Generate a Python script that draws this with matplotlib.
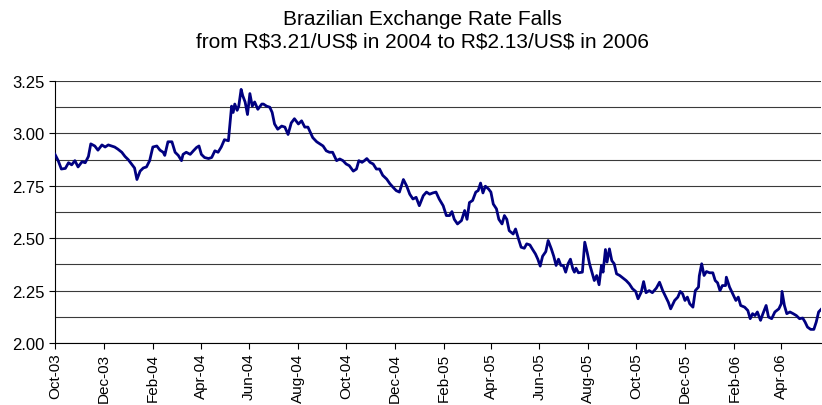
import pandas as pd
import matplotlib
matplotlib.use("Agg")
import matplotlib.pyplot as plt
import matplotlib.dates as mdates
from matplotlib.ticker import MultipleLocator, FormatStrFormatter

# days after 1 Oct 2003
start = pd.Timestamp("2003-10-01")
day = [0, 4, 8, 13, 17, 21, 25, 29, 34, 38, 42, 45, 50, 54, 59, 63, 67, 71, 75, 79,
       84, 88, 92, 96, 100, 103, 107, 111, 115, 119, 123, 128, 132, 136, 138, 142, 147, 151, 155, 159,
       161, 165, 170, 174, 178, 181, 184, 188, 193, 197, 201, 205, 209, 213, 218, 220, 222, 224, 226, 229,
       231, 234, 236, 239, 242, 245, 248, 251, 255, 260, 262, 266, 270, 273, 276, 280, 285, 289, 293, 297,
       301, 306, 310, 314, 318, 322, 324, 329, 333, 337, 341, 345, 349, 354, 358, 362, 366, 370, 375, 379,
       382, 386, 389, 392, 396, 400, 404, 408, 412, 417, 421, 425, 429, 433, 438, 442, 446, 450, 454, 458,
       463, 467, 471, 475, 479, 483, 488, 492, 496, 499, 502, 506, 511, 515, 518, 521, 525, 529, 532, 535,
       538, 541, 545, 548, 551, 555, 558, 562, 565, 568, 571, 576, 579, 582, 586, 590, 593, 597, 600, 604,
       607, 610, 613, 617, 620, 624, 627, 630, 633, 636, 639, 642, 645, 648, 651, 653, 655, 658, 663, 666,
       669, 672, 675, 678, 681, 684, 687, 689, 692, 694, 697, 700, 703, 706, 710, 714, 718, 722, 726, 730,
       733, 737, 740, 743, 747, 751, 756, 760, 764, 768, 771, 774, 779, 783, 786, 789, 792, 795, 798, 802,
       805, 809, 810, 813, 816, 819, 823, 827, 830, 833, 836, 839, 843, 844, 848, 852, 856, 859, 862, 867,
       871, 874, 877, 880, 883, 887, 890, 894, 897, 901, 905, 910, 913, 914, 917, 920, 924, 928, 932, 936,
       940, 943, 946, 950, 954, 957, 960, 963]
rate = [2.90, 2.87, 2.83, 2.833, 2.86, 2.85, 2.87, 2.84, 2.865, 2.86, 2.89, 2.95, 2.94, 2.92, 2.945, 2.935, 2.945, 2.94, 2.935, 2.925,
        2.91, 2.89, 2.875, 2.855, 2.835, 2.78, 2.82, 2.835, 2.84, 2.87, 2.935, 2.94, 2.92, 2.91, 2.895, 2.96, 2.96, 2.91, 2.895, 2.87,
        2.90, 2.91, 2.90, 2.917, 2.933, 2.94, 2.90, 2.885, 2.88, 2.885, 2.917, 2.91, 2.935, 2.97, 2.965, 3.05, 3.13, 3.10, 3.14, 3.11,
        3.13, 3.21, 3.18, 3.15, 3.09, 3.19, 3.13, 3.15, 3.115, 3.14, 3.14, 3.13, 3.125, 3.10, 3.045, 3.02, 3.035, 3.03, 2.995, 3.05,
        3.07, 3.045, 3.06, 3.03, 3.03, 2.997, 2.98, 2.96, 2.95, 2.94, 2.917, 2.91, 2.91, 2.87, 2.878, 2.87, 2.854, 2.846, 2.82, 2.83,
        2.87, 2.862, 2.87, 2.88, 2.862, 2.854, 2.83, 2.83, 2.80, 2.782, 2.76, 2.743, 2.727, 2.72, 2.78, 2.75, 2.71, 2.687, 2.695, 2.655,
        2.703, 2.72, 2.71, 2.716, 2.72, 2.687, 2.655, 2.608, 2.608, 2.627, 2.59, 2.568, 2.584, 2.632, 2.59, 2.67, 2.68, 2.72, 2.727, 2.763,
        2.716, 2.748, 2.735, 2.72, 2.663, 2.64, 2.59, 2.568, 2.608, 2.59, 2.536, 2.52, 2.544, 2.505, 2.457, 2.452, 2.473, 2.468, 2.449, 2.425,
        2.40, 2.367, 2.414, 2.436, 2.489, 2.449, 2.414, 2.37, 2.40, 2.37, 2.37, 2.338, 2.378, 2.40, 2.354, 2.338, 2.357, 2.335, 2.338, 2.481,
        2.433, 2.378, 2.338, 2.298, 2.322, 2.278, 2.37, 2.338, 2.446, 2.386, 2.449, 2.393, 2.378, 2.33, 2.322, 2.31, 2.298, 2.282, 2.259, 2.246,
        2.211, 2.243, 2.293, 2.24, 2.25, 2.24, 2.262, 2.29, 2.25, 2.219, 2.195, 2.163, 2.203, 2.219, 2.246, 2.235, 2.203, 2.219, 2.187, 2.171,
        2.25, 2.267, 2.32, 2.378, 2.322, 2.341, 2.335, 2.335, 2.298, 2.287, 2.25, 2.274, 2.274, 2.314, 2.267, 2.235, 2.203, 2.219, 2.179, 2.171,
        2.155, 2.116, 2.14, 2.131, 2.148, 2.108, 2.14, 2.179, 2.124, 2.116, 2.148, 2.163, 2.187, 2.246, 2.179, 2.14, 2.148, 2.14, 2.131, 2.116,
        2.119, 2.10, 2.076, 2.065, 2.065, 2.10, 2.148, 2.16]

title = "Brazilian Exchange Rate Falls\nfrom R$3.21/US$ in 2004 to R$2.13/US$ in 2006"

plt.rcParams['font.family'] = ['Liberation Sans', 'DejaVu Sans']

dates = start + pd.to_timedelta(day, unit="D")

fig = plt.figure(figsize=(8.22, 4.06), dpi=100)
ax = fig.add_axes([55/822, 1 - 344/406, 766/822, 262/406])

ax.plot(dates, rate, color="#000080", linewidth=2.0, zorder=3)

ax.set_ylim(2.0, 3.25)
ax.set_xlim(dates[0], dates[-1])
ax.yaxis.set_major_locator(MultipleLocator(0.25))
ax.yaxis.set_minor_locator(MultipleLocator(0.125))
ax.yaxis.set_major_formatter(FormatStrFormatter("%.2f"))
ax.grid(axis="y", which="both", color="#3a3a3a", linewidth=0.8)
ax.tick_params(axis="y", which="minor", length=0)

ax.xaxis.set_major_locator(mdates.MonthLocator(bymonth=[2, 4, 6, 8, 10, 12]))
ax.xaxis.set_major_formatter(mdates.DateFormatter("%b-%y"))
for lab in ax.get_xticklabels():
    lab.set_rotation(90)

ax.tick_params(axis="both", length=4, width=0.8, color="black")
ax.tick_params(axis="y", labelsize=12)
ax.tick_params(axis="x", labelsize=11, pad=3)
for s in ["top", "right"]:
    ax.spines[s].set_visible(False)
for s in ["left", "bottom"]:
    ax.spines[s].set_linewidth(0.8)

fig.text(422/822, 1 - 10/406, title, ha="center", va="top", fontsize=15,
         linespacing=1.25, parse_math=False)

fig.savefig("out.png", dpi=100)
